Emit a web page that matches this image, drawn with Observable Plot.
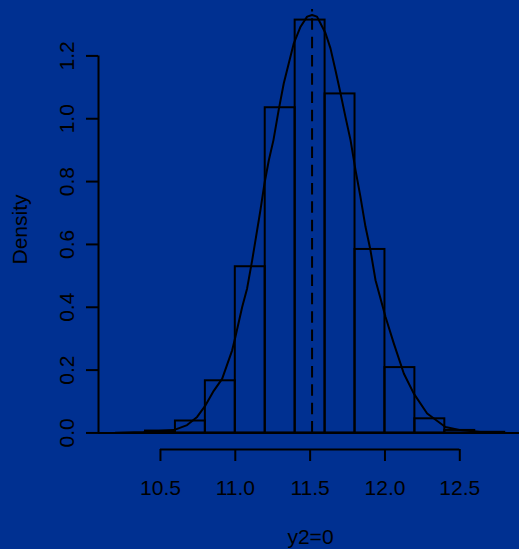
<!DOCTYPE html>
<html>
<head>
<meta charset="utf-8">
<script src="https://cdn.jsdelivr.net/npm/d3@7"></script>
<script src="https://cdn.jsdelivr.net/npm/@observablehq/plot@0.6"></script>
<style>
  html, body { margin: 0; padding: 0; background: #003091; }
  #chart svg { display: block; }
</style>
</head>
<body>
<div id="chart"></div>
<script>
// Histogram bin edges and densities
const breaks = [10.4, 10.6, 10.8, 11.0, 11.2, 11.4, 11.6, 11.8, 12.0, 12.2, 12.4, 12.6, 12.8];
const densities = [0.006, 0.038, 0.166, 0.529, 1.035, 1.314, 1.079, 0.584, 0.208, 0.045, 0.008, 0.002];

// Kernel density curve
const curveX = [10.199, 10.388, 10.589, 10.678, 10.745, 10.801, 10.856, 10.912, 10.979, 11.001, 11.046, 11.079, 11.113, 11.124, 11.168, 11.195, 11.224, 11.255, 11.290, 11.324, 11.357, 11.391, 11.436, 11.480, 11.513, 11.546, 11.569, 11.603, 11.636, 11.669, 11.703, 11.736, 11.770, 11.803, 11.836, 11.870, 11.903, 11.937, 12.004, 12.059, 12.126, 12.193, 12.282, 12.404, 12.505, 12.638, 12.817, 12.95];
const curveY = [0.001, 0.003, 0.009, 0.025, 0.051, 0.088, 0.134, 0.172, 0.263, 0.306, 0.401, 0.46, 0.55, 0.582, 0.709, 0.794, 0.868, 0.932, 1.028, 1.113, 1.176, 1.240, 1.293, 1.325, 1.330, 1.325, 1.304, 1.272, 1.224, 1.155, 1.081, 1.006, 0.932, 0.837, 0.752, 0.656, 0.582, 0.486, 0.369, 0.285, 0.189, 0.125, 0.062, 0.019, 0.009, 0.003, 0.0, 0.0];

// Mean marker
const meanLine = [11.513];

// Axes
const xTicks = [10.5, 11.0, 11.5, 12.0, 12.5];
const yTicks = [0.0, 0.2, 0.4, 0.6, 0.8, 1.0, 1.2];
const xLimits = [10.086, 12.919];
const yLimits = [-0.0527, 1.3477];
const xLabel = "y2=0";
const yLabel = "Density";

const bins = densities.map((d, i) => ({x1: breaks[i], x2: breaks[i + 1], y: d}));
const curve = curveX.map((x, i) => ({x, y: curveY[i]}));
const fmt = d3.format(".1f");
const lw = 2;
const fs = 21;

const plot = Plot.plot({
  width: 519,
  height: 549,
  marginLeft: 98,
  marginRight: 0,
  marginTop: 9,
  marginBottom: 100,
  style: {background: "#003091", color: "black", fontFamily: "'Liberation Sans', Arial, sans-serif", fontSize: fs + "px"},
  x: {domain: xLimits, range: [98, 522]},
  y: {domain: yLimits},
  marks: [
    Plot.rectY(bins, {x1: "x1", x2: "x2", y: "y", fill: "none", stroke: "black", strokeWidth: lw}),
    Plot.ruleY([0], {stroke: "black", strokeWidth: lw}),
    Plot.line(curve, {x: "x", y: "y", stroke: "black", strokeWidth: lw}),
    Plot.ruleX(meanLine, {y1: 0, y2: yLimits[1], stroke: "black", strokeWidth: lw, strokeDasharray: "11.5,6.8"}),
    // y axis
    Plot.ruleX([xLimits[0]], {y1: d3.min(yTicks), y2: d3.max(yTicks), stroke: "black", strokeWidth: lw}),
    Plot.axisY({ticks: yTicks, tickSize: 12, tickPadding: 13, tickRotate: -90, tickFormat: fmt, fontSize: fs, label: null, strokeWidth: lw}),
    // x axis
    Plot.ruleY([yLimits[0]], {x1: d3.min(xTicks), x2: d3.max(xTicks), stroke: "black", strokeWidth: lw}),
    Plot.axisX({ticks: xTicks, tickSize: 12, tickPadding: 19, tickFormat: fmt, fontSize: fs, label: null, strokeWidth: lw}),
    // titles
    Plot.text([xLabel], {x: d3.mean(xLimits), frameAnchor: "bottom", dy: 94, lineAnchor: "bottom", fontSize: fs}),
    Plot.text([yLabel], {frameAnchor: "left", rotate: -90, dx: -72, lineAnchor: "bottom", textAnchor: "middle", fontSize: fs})
  ]
});
document.getElementById("chart").appendChild(plot);
</script>
</body>
</html>
